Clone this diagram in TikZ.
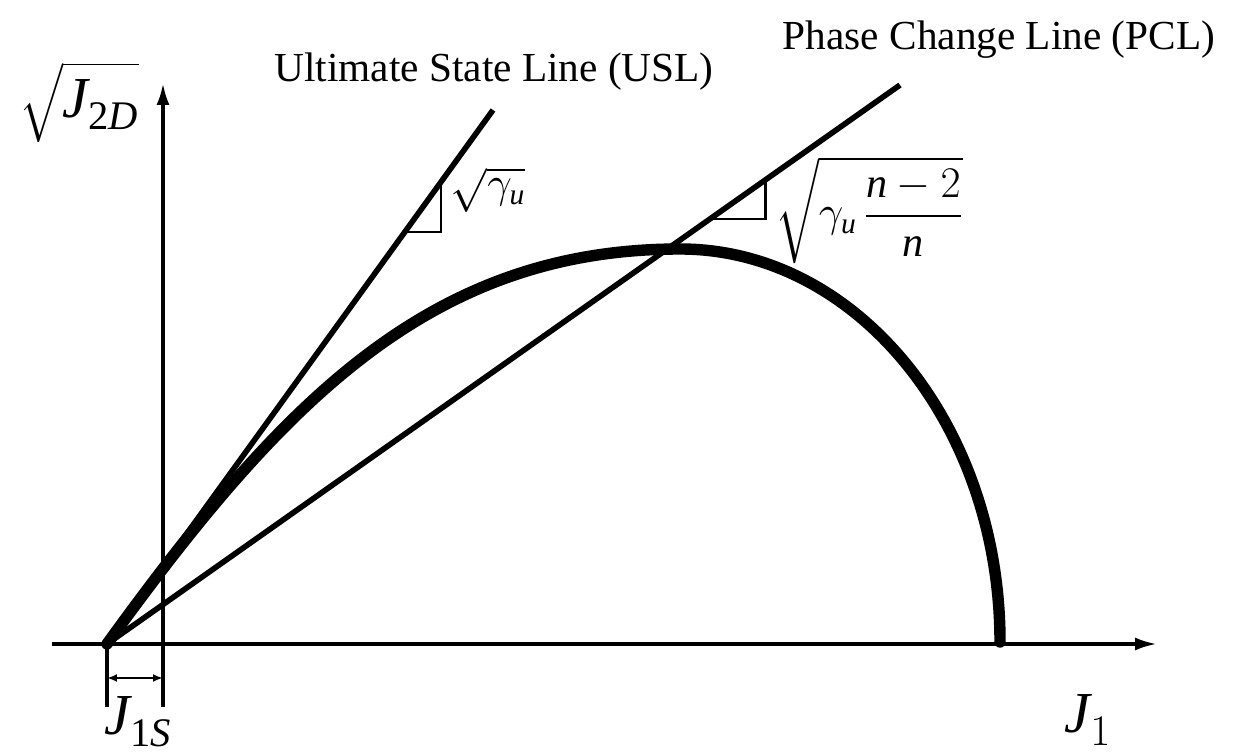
\documentclass[tikz,border=0pt]{standalone}
\usepackage{amsmath}
\usepackage{fontspec}
\setmainfont{Liberation Serif}
\usetikzlibrary{arrows.meta,calc}

\newcommand{\iv}[1]{\text{\itshape #1}}

\begin{document}
\begin{tikzpicture}[
        x=0.02cm, y=0.02cm,
        axis/.style={line width=2pt, -{Latex[length=0.44cm, width=0.26cm]}},
        stateline/.style={line width=3.2pt},
        yieldcurve/.style={line width=6.5pt, line cap=round},
        slopetri/.style={line width=1.4pt},
        tickline/.style={line width=2pt},
        dimarr/.style={{Latex[length=0.2cm, width=0.16cm]}-{Latex[length=0.2cm, width=0.16cm]}, line width=1.5pt},
        lbl/.style={font=\fontsize{23.5}{27}\selectfont, inner sep=0pt},
        sym/.style={font=\fontsize{33}{38}\selectfont, inner sep=0pt},
        slopelbl/.style={font=\fontsize{24}{28}\selectfont, inner sep=0pt}
    ]
        \useasboundingbox (0,0) rectangle (1236,756);

        % axes
        \coordinate (O) at (107,112);
        \coordinate (xstart) at (52,112);
        \coordinate (xend) at (1157,112);
        \coordinate (ybot) at (163,49);
        \coordinate (yend) at (163,673);
        \draw[axis] (xstart) -- (xend);
        \draw[axis] (ybot) -- (yend);

        % J_1S offset
        \coordinate (s0) at (107,49);
        \coordinate (a0) at (107,78);
        \coordinate (a1) at (163,78);
        \draw[tickline] (O) -- (s0);
        \draw[dimarr] (a0) -- (a1);

        % state lines
        \coordinate (usl) at (493,646);
        \coordinate (pcl) at (900,671);
        \draw[stateline] (O) -- (usl);
        \draw[stateline] (O) -- (pcl);

        % slope triangles
        \coordinate (u1) at ($(O)!0.772!(usl)$);
        \draw[slopetri] (u1) -- ++(36,0) -- ++(0,49.8);
        \coordinate (p1) at ($(O)!0.760!(pcl)$);
        \draw[slopetri] (p1) -- ++(56,0) -- ++(0,39.5);

        % yield surface
        \coordinate (top) at (680,507);
        \draw[yieldcurve] (O) .. controls +(175,242) and (430,507) .. (top)
            arc[start angle=90, end angle=0, x radius=320, y radius=393];

        % labels
        \node[lbl] (usllbl) at (494,684) {Ultimate State Line (USL)};
        \node[lbl] (pcllbl) at (999,716) {Phase Change Line (PCL)};
        \node[sym] (ylbl) at (79,654) {$\sqrt{\iv{J}_{\text{2\itshape D}}}$};
        \node[sym] (xlbl) at (1088,36) {$\iv{J}_{1}$};
        \node[sym] (slbl) at (138,34) {$\iv{J}_{\text{1\itshape S}}$};
        \node[slopelbl] (ulbl) at (488,566) {$\sqrt{\gamma_{\iv{u}}}$};
        \node[slopelbl] (plbl) at (869,546) {$\sqrt{\gamma_{\iv{u}}\,\dfrac{\iv{n}-2}{\iv{n}}}$};
    \end{tikzpicture}
\end{document}
